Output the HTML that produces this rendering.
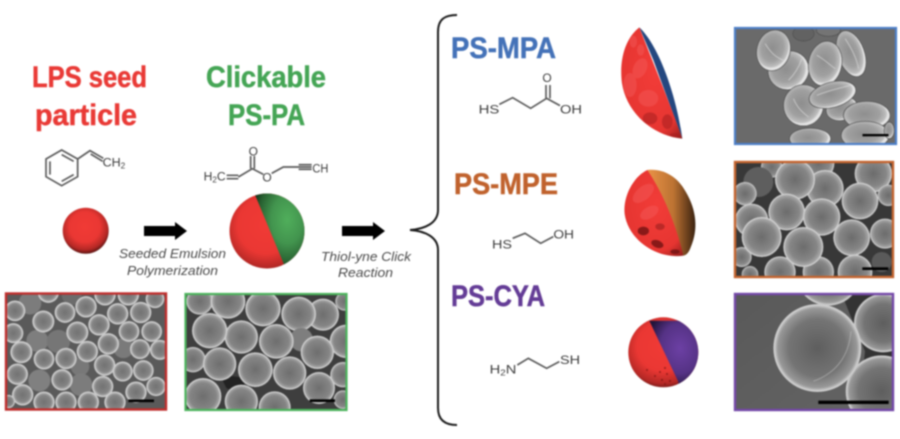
<!DOCTYPE html>
<html>
<head>
<meta charset="utf-8">
<style>
html,body{margin:0;padding:0;background:#fff;width:900px;height:439px;overflow:hidden}
svg.main{display:block;filter:blur(.7px)}
.t{font-family:"Liberation Sans",sans-serif;font-weight:bold;font-size:30px;stroke-width:.5px}
.c{font-family:"Liberation Sans",sans-serif;font-style:italic;font-size:12.5px;fill:#4a4a4a}
.ch{font-family:"Liberation Sans",sans-serif;font-size:36px;fill:#3c3c3c}
.b{stroke:#5a5a5a;stroke-width:5;fill:none}
</style>
</head>
<body>
<svg class="main" width="900" height="439" viewBox="0 0 900 439" xmlns="http://www.w3.org/2000/svg">
<defs>
<radialGradient id="g1"><stop offset="0" stop-color="#727272"/><stop offset=".65" stop-color="#858585"/><stop offset=".82" stop-color="#a6a6a6"/><stop offset=".95" stop-color="#dcdcdc"/><stop offset="1" stop-color="#c0c0c0"/></radialGradient>
<radialGradient id="g2"><stop offset="0" stop-color="#6e6e6e"/><stop offset=".72" stop-color="#858585"/><stop offset=".88" stop-color="#a2a2a2"/><stop offset=".97" stop-color="#dadada"/><stop offset="1" stop-color="#bdbdbd"/></radialGradient>
<radialGradient id="g3"><stop offset="0" stop-color="#6c6c6c"/><stop offset=".68" stop-color="#868686"/><stop offset=".9" stop-color="#a6a6a6"/><stop offset=".98" stop-color="#dcdcdc"/><stop offset="1" stop-color="#c4c4c4"/></radialGradient>
<radialGradient id="g4" cx=".45" cy=".45"><stop offset="0" stop-color="#8e8e8e"/><stop offset=".65" stop-color="#a0a0a0"/><stop offset=".92" stop-color="#bdbdbd"/><stop offset="1" stop-color="#e4e4e4"/></radialGradient>
<radialGradient id="g5"><stop offset="0" stop-color="#5e5e5e"/><stop offset=".65" stop-color="#747474"/><stop offset=".9" stop-color="#989898"/><stop offset=".98" stop-color="#d4d4d4"/><stop offset="1" stop-color="#b8b8b8"/></radialGradient>
<radialGradient id="rs" cx=".48" cy=".42" r=".6"><stop offset="0" stop-color="#f03a35"/><stop offset=".55" stop-color="#ea3733"/><stop offset=".82" stop-color="#b42825"/><stop offset="1" stop-color="#4a1210"/></radialGradient>
<radialGradient id="gs" cx=".6" cy=".35" r=".62"><stop offset="0" stop-color="#50ae5b"/><stop offset=".45" stop-color="#42944e"/><stop offset=".82" stop-color="#275f30"/><stop offset="1" stop-color="#12331a"/></radialGradient>
<radialGradient id="ps" cx=".55" cy=".4" r=".6"><stop offset="0" stop-color="#6c40a4"/><stop offset=".6" stop-color="#553285"/><stop offset="1" stop-color="#22143a"/></radialGradient>
<linearGradient id="os" x1="0" y1="0" x2="1" y2="0"><stop offset="0" stop-color="#ea9346"/><stop offset=".55" stop-color="#bb7232"/><stop offset="1" stop-color="#3a2210"/></linearGradient>
<radialGradient id="rp" cx=".55" cy=".4" r=".75"><stop offset="0" stop-color="#f23c38"/><stop offset=".72" stop-color="#e63531"/><stop offset="1" stop-color="#8c1c1a"/></radialGradient>
<linearGradient id="pbg" x1="0" y1="0" x2="1" y2="1"><stop offset="0" stop-color="#585858"/><stop offset="1" stop-color="#646464"/></linearGradient>
<clipPath id="cBig"><circle cx="267" cy="231" r="37.5"/></clipPath>
<clipPath id="cCya"><circle cx="663.3" cy="352.3" r="35"/></clipPath>
</defs>

<!-- Titles -->
<text class="t" x="32" y="87" fill="#e93a36" stroke="#e93a36" textLength="115" lengthAdjust="spacingAndGlyphs">LPS seed</text>
<text class="t" x="35" y="125" fill="#e93a36" stroke="#e93a36" textLength="102" lengthAdjust="spacingAndGlyphs">particle</text>
<text class="t" x="206" y="87" fill="#45a555" stroke="#45a555" textLength="120" lengthAdjust="spacingAndGlyphs">Clickable</text>
<text class="t" x="228" y="125" fill="#45a555" stroke="#45a555" textLength="77" lengthAdjust="spacingAndGlyphs">PS-PA</text>
<text class="t" x="451" y="58" fill="#4472b8" stroke="#4472b8" textLength="105" lengthAdjust="spacingAndGlyphs">PS-MPA</text>
<text class="t" x="454" y="194" fill="#c0622d" stroke="#c0622d" textLength="104" lengthAdjust="spacingAndGlyphs">PS-MPE</text>
<text class="t" x="451" y="306" fill="#643c96" stroke="#643c96" textLength="94" lengthAdjust="spacingAndGlyphs">PS-CYA</text>

<!-- Left chemistry -->
<g transform="translate(0,50) scale(.33333)">
<g class="b">
<path d="M185 300L233 327V380L185 407L138 380V327Z"/>
<path d="M185 314L221 334M221 374L185 394M150 374V334"/>
<path d="M233 327L270 302L310 325M272 312L308 334"/>
<path d="M680 376H715M680 386H715M715 381L757 356L790 373M752 356V318M763 356V318M815 370L850 351H896M896 344H935M896 351H935M896 358H935"/>
</g>
<text class="ch" x="308" y="350" textLength="68" lengthAdjust="spacingAndGlyphs">CH<tspan font-size="24" dy="6">2</tspan></text>
<text class="ch" x="611" y="392" textLength="66" lengthAdjust="spacingAndGlyphs">H<tspan font-size="24" dy="6">2</tspan><tspan dy="-6">C</tspan></text>
<text class="ch" x="746" y="316">O</text>
<text class="ch" x="787" y="395">O</text>
<text class="ch" x="937" y="368" textLength="48" lengthAdjust="spacingAndGlyphs">CH</text>
</g>

<!-- Spheres -->
<circle cx="85.7" cy="230.7" r="23" fill="url(#rs)"/>
<g clip-path="url(#cBig)">
<rect x="225" y="190" width="85" height="85" fill="url(#rs)"/>
<path d="M253 190H310V275H288L283 262Z" fill="url(#gs)"/>
</g>

<!-- Arrows -->
<path d="M144 226H175V222L187 231L175 240V236H144Z" fill="#000"/>
<path d="M342 226H373V222L385 231L373 240V236H342Z" fill="#000"/>

<!-- Captions -->
<text class="c" x="119" y="258" textLength="107" lengthAdjust="spacingAndGlyphs">Seeded Emulsion</text>
<text class="c" x="127" y="275" textLength="91" lengthAdjust="spacingAndGlyphs">Polymerization</text>
<text class="c" x="321" y="261" textLength="90" lengthAdjust="spacingAndGlyphs">Thiol-yne Click</text>
<text class="c" x="338" y="277" textLength="55" lengthAdjust="spacingAndGlyphs">Reaction</text>

<!-- Brace -->
<path d="M457 15C445 15 438 19 438 32V210C438 223 425 229 410 230C425 231 438 237 438 250V408C438 420 445 425 457 425" fill="none" stroke="#1c1c1c" stroke-width="2"/>

<!-- Red SEM -->
<svg x="5" y="293" width="161" height="117" viewBox="15 25 483 350">
<rect x="0" y="0" width="520" height="400" fill="#5a5a5a"/>
<g fill="url(#g1)">
<circle cx="90" cy="55" r="34" fill="#7c7c7c"/><circle cx="145" cy="22" r="32"/><circle cx="315" cy="30" r="32"/><circle cx="385" cy="30" r="32"/><circle cx="465" cy="42" r="28"/><circle cx="215" cy="30" r="30" fill="#6c6c6c"/>
<circle cx="112" cy="168" r="33" fill="#7e7e7e"/><circle cx="175" cy="170" r="35" fill="#767676"/><circle cx="480" cy="195" r="30"/><circle cx="370" cy="190" r="30" fill="#7a7a7a"/><circle cx="240" cy="245" r="28" fill="#787878"/>
<circle cx="118" cy="287" r="33" fill="#808080"/><circle cx="243" cy="300" r="34" fill="#7c7c7c"/>
<circle cx="45" cy="78" r="31"/><circle cx="130" cy="110" r="33"/><circle cx="195" cy="83" r="31"/><circle cx="258" cy="66" r="32"/><circle cx="353" cy="87" r="32"/><circle cx="422" cy="83" r="32"/><circle cx="40" cy="145" r="30"/><circle cx="232" cy="143" r="33"/><circle cx="297" cy="120" r="32"/><circle cx="387" cy="140" r="31"/><circle cx="455" cy="140" r="31"/><circle cx="325" cy="177" r="32"/><circle cx="420" cy="193" r="30"/><circle cx="64" cy="202" r="33"/><circle cx="132" cy="223" r="31"/><circle cx="198" cy="221" r="32"/><circle cx="262" cy="200" r="32"/><circle cx="314" cy="241" r="32"/><circle cx="368" cy="260" r="30"/><circle cx="430" cy="257" r="31"/><circle cx="52" cy="268" r="32"/><circle cx="186" cy="285" r="32"/><circle cx="308" cy="305" r="32"/><circle cx="408" cy="322" r="32"/><circle cx="468" cy="305" r="29"/><circle cx="68" cy="330" r="32"/><circle cx="132" cy="352" r="32"/><circle cx="198" cy="352" r="32"/><circle cx="265" cy="352" r="32"/><circle cx="345" cy="352" r="32"/><circle cx="25" cy="350" r="20"/>
</g>
<rect x="385" y="344" width="77" height="8" fill="#000"/>
</svg>
<rect x="6" y="293.5" width="160" height="116" fill="none" stroke="#bf2e2c" stroke-width="2.4"/>

<!-- Green SEM -->
<svg x="185" y="294" width="162" height="116" viewBox="556 28 486 348">
<rect x="550" y="20" width="500" height="360" fill="#3e3e3e"/>
<path d="M660 270L740 280L720 330L680 310Z" fill="#222"/>
<g fill="url(#g2)">
<circle cx="970" cy="90" r="48"/><circle cx="1035" cy="50" r="28"/><circle cx="600" cy="50" r="40"/><circle cx="685" cy="50" r="52"/>
<circle cx="790" cy="72" r="53"/><circle cx="897" cy="88" r="52"/><circle cx="725" cy="157" r="50"/><circle cx="630" cy="138" r="53"/><circle cx="905" cy="165" r="35" fill="#7e7e7e"/><circle cx="830" cy="170" r="52"/><circle cx="1040" cy="170" r="50"/>
<circle cx="953" cy="203" r="50"/><circle cx="580" cy="225" r="38"/><circle cx="1030" cy="270" r="38"/><circle cx="660" cy="238" r="50"/><circle cx="767" cy="255" r="52"/><circle cx="870" cy="265" r="50"/><circle cx="958" cy="310" r="48"/><circle cx="610" cy="335" r="55"/><circle cx="725" cy="350" r="50"/><circle cx="825" cy="368" r="48"/><circle cx="1030" cy="345" r="28"/>
</g>
<rect x="930" y="344" width="76" height="8" fill="#000"/>
</svg>
<rect x="185.5" y="294" width="161" height="116" fill="none" stroke="#4cb35c" stroke-width="2.2"/>

<!-- Right chemistry: MPA, MPE -->
<g transform="translate(420,10) scale(.33333)">
<g class="b">
<path d="M238 283L278 263L332 295L380 265L420 287M378 265V225M390 265V225"/>
<path d="M278 685L315 670L362 700L400 680"/>
</g>
<text class="ch" x="176" y="310" textLength="62" lengthAdjust="spacingAndGlyphs">HS</text>
<text class="ch" x="367" y="216">O</text>
<text class="ch" x="420" y="310" textLength="66" lengthAdjust="spacingAndGlyphs">OH</text>
<text class="ch" x="216" y="716" textLength="60" lengthAdjust="spacingAndGlyphs">HS</text>
<text class="ch" x="400" y="686" textLength="62" lengthAdjust="spacingAndGlyphs">OH</text>
</g>
<g transform="translate(420,270) scale(.33333)">
<path class="b" d="M292 285L325 265L380 295L418 275"/>
<text class="ch" x="209" y="310" textLength="80" lengthAdjust="spacingAndGlyphs">H<tspan font-size="24" dy="6">2</tspan><tspan dy="-6">N</tspan></text>
<text class="ch" x="420" y="282" textLength="60" lengthAdjust="spacingAndGlyphs">SH</text>
</g>

<!-- PS-MPA particle -->
<g transform="translate(420,10) scale(.33333)">
<path d="M658 52C715 105 768 250 787 386L700 150Z" fill="#24477f"/>
<path d="M658 52C610 90 598 160 606 220C620 310 700 378 787 386C750 280 700 160 658 52Z" fill="url(#rp)"/>
<g fill="#f56060" opacity=".4">
<ellipse cx="660" cy="175" rx="20" ry="32" transform="rotate(25 660 175)"/>
<ellipse cx="685" cy="265" rx="30" ry="25"/>
<ellipse cx="630" cy="225" rx="20" ry="36"/>
<ellipse cx="662" cy="120" rx="11" ry="17"/>
<ellipse cx="640" cy="95" rx="11" ry="18"/>
</g>
<g fill="#a82020" opacity=".55">
<ellipse cx="742" cy="335" rx="16" ry="22"/>
<ellipse cx="690" cy="325" rx="22" ry="18"/>
<ellipse cx="765" cy="375" rx="16" ry="6"/>
</g>
</g>

<!-- PS-MPE particle -->
<g transform="translate(420,10) scale(.33333)">
<path d="M682 480C725 475 770 495 797 545C830 600 835 660 812 712C806 728 800 735 790 737Z" fill="url(#os)"/>
<path d="M682 480C640 500 608 560 614 612C625 690 710 748 790 737C770 650 730 550 682 480Z" fill="url(#rp)"/>
<g fill="#f56060" opacity=".4">
<ellipse cx="670" cy="550" rx="38" ry="20" transform="rotate(-40 670 550)"/>
<ellipse cx="688" cy="608" rx="30" ry="17" transform="rotate(-30 688 608)"/>
</g>
<g fill="#6a1010" opacity=".75">
<ellipse cx="670" cy="663" rx="17" ry="13"/>
<ellipse cx="712" cy="702" rx="19" ry="11" transform="rotate(20 712 702)"/>
<ellipse cx="720" cy="650" rx="14" ry="10" opacity=".5"/>
<ellipse cx="765" cy="725" rx="14" ry="7"/>
</g>
</g>

<!-- PS-CYA particle -->
<g clip-path="url(#cCya)">
<rect x="625" y="315" width="80" height="75" fill="url(#rs)"/>
<path d="M649.3 320.7H705V390H678.3L678.3 381.7Z" fill="url(#ps)"/>
<g fill="#7a1512" opacity=".7">
<circle cx="665" cy="368" r="1"/><circle cx="660" cy="372" r="1"/><circle cx="667" cy="374" r="1"/><circle cx="655" cy="376" r="1"/><circle cx="662" cy="380" r="1.1"/><circle cx="670" cy="381" r="1.1"/><circle cx="647" cy="370" r="1"/><circle cx="665" cy="384" r="1"/>
</g>
</g>

<!-- Blue SEM -->
<svg x="735" y="28" width="161" height="116" viewBox="30 38 482 348">
<rect x="0" y="0" width="520" height="400" fill="#6a6a6a"/>
<g fill="url(#g4)" stroke="#4e4e4e" stroke-width="2">
<ellipse cx="235" cy="55" rx="32" ry="22" fill="#626262"/><ellipse cx="310" cy="45" rx="36" ry="18" fill="#747474"/>
<ellipse cx="190" cy="165" rx="62" ry="58" transform="rotate(-20 190 165)"/>
<ellipse cx="145" cy="105" rx="50" ry="62" transform="rotate(15 145 105)"/>
<ellipse cx="378" cy="115" rx="40" ry="72" transform="rotate(-20 378 115)"/>
<ellipse cx="300" cy="145" rx="50" ry="68" transform="rotate(10 300 145)"/>
<ellipse cx="350" cy="280" rx="48" ry="35" transform="rotate(-15 350 280)"/>
<ellipse cx="235" cy="270" rx="60" ry="62"/>
<ellipse cx="322" cy="238" rx="72" ry="38" transform="rotate(-15 322 238)"/>
<ellipse cx="425" cy="300" rx="70" ry="42"/>
<ellipse cx="255" cy="370" rx="62" ry="32"/>
<ellipse cx="420" cy="360" rx="72" ry="42"/>
<ellipse cx="492" cy="345" rx="15" ry="25"/>
</g>
<g fill="none" stroke="#dcdcdc" stroke-width="3" opacity=".65">
<path d="M120 85C135 110 150 125 175 135M190 195C205 180 220 160 230 130M275 120C295 130 315 150 330 160M360 70C380 100 395 130 400 160M275 240C310 225 340 220 375 210M205 250C215 275 230 290 250 305"/>
</g>
<rect x="412" y="356" width="78" height="7" fill="#000"/>
</svg>
<rect x="735" y="28" width="161" height="116" fill="none" stroke="#4d7fc8" stroke-width="2.2"/>

<!-- Orange SEM -->
<svg x="735" y="162" width="159" height="115" viewBox="30 35 477 345">
<rect x="0" y="0" width="520" height="400" fill="#383838"/>
<g fill="url(#g3)">
<circle cx="140" cy="50" r="32"/><circle cx="100" cy="95" r="45" fill="#5e5e5e"/><circle cx="60" cy="130" r="35"/><circle cx="280" cy="40" r="48"/><circle cx="445" cy="70" r="56"/>
<circle cx="300" cy="115" r="56"/><circle cx="210" cy="88" r="60"/><circle cx="490" cy="135" r="32"/><circle cx="405" cy="152" r="55"/><circle cx="80" cy="210" r="50"/><circle cx="185" cy="185" r="55"/><circle cx="290" cy="200" r="56"/><circle cx="480" cy="250" r="45"/><circle cx="380" cy="262" r="55"/><circle cx="50" cy="320" r="30"/><circle cx="110" cy="260" r="60"/><circle cx="165" cy="365" r="47"/><circle cx="280" cy="365" r="47"/><circle cx="235" cy="290" r="60"/><circle cx="390" cy="365" r="52"/><circle cx="470" cy="335" r="30" fill="#5a5a5a"/><circle cx="75" cy="372" r="25"/>
</g>
<rect x="412" y="351" width="78" height="8" fill="#000"/>
</svg>
<rect x="735" y="162" width="158" height="115" fill="none" stroke="#c4642f" stroke-width="2.4"/>

<!-- Purple SEM -->
<svg x="735" y="294" width="159" height="116" viewBox="30 28 477 348">
<rect x="0" y="0" width="520" height="400" fill="url(#pbg)"/>
<path d="M350 28L510 28V380H400L420 200Z" fill="#333"/>
<g fill="url(#g5)">
<circle cx="310" cy="-35" r="98"/>
<circle cx="475" cy="115" r="88"/>
<circle cx="470" cy="320" r="108"/>
<circle cx="277" cy="190" r="132"/>
</g>
<path d="M265 290C320 270 370 230 378 140" fill="none" stroke="#c8c8c8" stroke-width="3" opacity=".5"/>
<rect x="280" y="348" width="211" height="10" fill="#000"/>
</svg>
<rect x="735" y="294" width="158" height="116" fill="none" stroke="#7448a8" stroke-width="2.4"/>
</svg>
</body>
</html>
